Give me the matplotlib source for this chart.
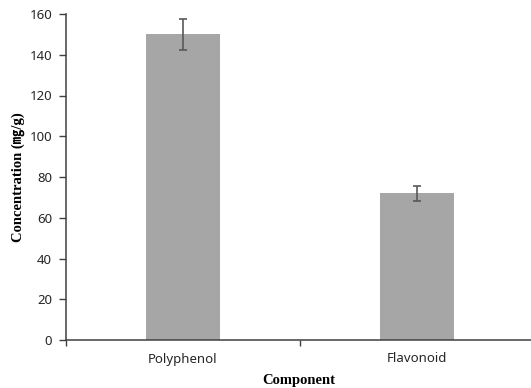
import matplotlib
matplotlib.use("Agg")
import matplotlib.pyplot as plt
import numpy as np

# data
components = ["Polyphenol", "Flavonoid"]
concentration = [150.0, 72.0]
error = [7.5, 3.7]

plt.rcParams["font.family"] = ["Noto Sans", "DejaVu Sans"]

fig = plt.figure(figsize=(5.31, 3.88), dpi=100)
ax = fig.add_axes([66 / 531, 1 - 340 / 388, 468 / 531, 326 / 388])

x = np.arange(len(components))
ax.bar(x, concentration, width=0.314, color="#a6a6a6", zorder=2)
ax.errorbar(x, concentration, yerr=error, fmt="none", ecolor="#595959",
            elinewidth=1.2, capsize=2.6, capthick=1.2, zorder=3)

ax.set_xlim(-0.5, 1.5)
ax.set_ylim(0, 160)
ax.set_yticks(np.arange(0, 161, 20))
ax.set_xticks([-0.5, 0.5, 1.5])
ax.set_xticklabels([])
ax.set_xticks(x, minor=True)
ax.set_xticklabels(components, minor=True)
ax.tick_params(axis="x", which="minor", length=0, pad=9, labelsize=9.5, colors="#262626")
ax.tick_params(axis="x", which="major", direction="out", length=4, width=1, color="#404040")
ax.tick_params(axis="y", direction="out", length=5, width=1, color="#404040",
               labelsize=9.5, labelcolor="#262626", pad=5)

for side in ["top", "right"]:
    ax.spines[side].set_visible(False)
for side in ["left", "bottom"]:
    ax.spines[side].set_color("#404040")
    ax.spines[side].set_linewidth(1.1)

ax.set_xlabel("Component", family=["Liberation Serif", "Noto Sans CJK KR"],
              fontweight="bold", fontsize=10.5)
ax.set_ylabel("Concentration (\u338e/g)", family=["Liberation Serif", "Noto Sans CJK KR"],
              fontweight="bold", fontsize=10.5)
ax.xaxis.set_label_coords(0.5 - (534 - 531) / 2 / 468, -34 / 326)
ax.yaxis.set_label_coords(-41 / 468, 0.5)

fig.savefig("out.png", dpi=100)
